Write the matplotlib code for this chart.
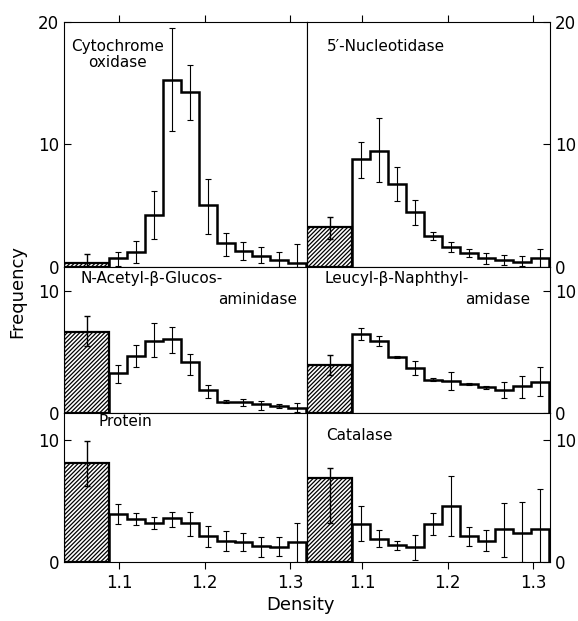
import numpy as np
import matplotlib
matplotlib.use('Agg')
import matplotlib.pyplot as plt

# density bins (the shaded first bar is the pellet / load zone)
edges = [1.088, 1.109, 1.130, 1.151, 1.172, 1.193, 1.214, 1.235, 1.256, 1.277, 1.298, 1.319]
x_left = 1.035
x_right = 1.320

names = ['Cytochrome\noxidase', '5\u2032-Nucleotidase',
         'N-Acetyl-\u03b2-Glucos-', 'Leucyl-\u03b2-Naphthyl-',
         'Protein', 'Catalase']

# shaded bar: value, error low, error high
shaded = [0.3, 3.25, 6.64, 3.92, 8.1, 6.9]
shaded_lo = [0.0, 2.3, 5.48, 3.1, 6.2, 3.2]
shaded_hi = [1.1, 4.1, 7.96, 4.8, 9.9, 7.66]

cyto = [0.7, 1.24, 4.25, 15.3, 14.3, 5.1, 1.96, 1.3, 0.9, 0.56, 0.35]
cyto_lo = [0.1, 0.3, 2.3, 11.1, 12.0, 2.7, 0.9, 0.56, 0.3, 0.0, 0.0]
cyto_hi = [1.2, 2.1, 6.2, 19.5, 16.5, 7.2, 2.8, 2.0, 1.6, 1.24, 1.9]

nucl = [8.8, 9.5, 6.8, 4.5, 2.5, 1.64, 1.18, 0.75, 0.56, 0.43, 0.7]
nucl_lo = [7.3, 6.9, 5.35, 3.4, 2.2, 1.24, 0.83, 0.24, 0.16, 0.08, 0.0]
nucl_hi = [10.2, 12.2, 8.2, 5.5, 2.85, 2.0, 1.45, 1.16, 0.97, 0.9, 1.5]

nag = [3.28, 4.66, 5.95, 6.09, 4.16, 1.85, 0.94, 0.88, 0.72, 0.6, 0.44]
nag_lo = [2.45, 3.75, 4.57, 4.93, 3.14, 1.2, 0.8, 0.6, 0.25, 0.45, 0.1]
nag_hi = [3.97, 5.56, 7.4, 7.08, 4.85, 2.3, 1.1, 1.16, 1.0, 0.75, 0.8]

leu = [6.5, 5.9, 4.6, 3.7, 2.74, 2.6, 2.4, 2.1, 1.9, 2.2, 2.55]
leu_lo = [6.0, 5.5, 4.5, 3.1, 2.65, 1.9, 2.3, 2.0, 1.24, 1.24, 1.37]
leu_hi = [6.97, 6.3, 4.7, 4.25, 2.85, 3.34, 2.5, 2.2, 2.55, 3.0, 3.8]

prot = [3.9, 3.5, 3.17, 3.6, 3.2, 2.13, 1.7, 1.64, 1.34, 1.2, 1.67]
prot_lo = [3.1, 3.0, 2.7, 2.9, 2.1, 1.26, 0.9, 0.93, 0.44, 0.5, 0.0]
prot_hi = [4.75, 3.99, 3.7, 4.1, 4.1, 2.95, 2.5, 2.35, 2.08, 2.08, 3.2]

cat = [3.1, 1.87, 1.4, 1.2, 3.1, 4.57, 2.1, 1.76, 2.7, 2.37, 2.7]
cat_lo = [1.76, 1.2, 1.0, 0.2, 2.2, 2.1, 1.27, 0.9, 0.44, 0.0, 0.0]
cat_hi = [4.57, 2.6, 1.74, 2.2, 4.0, 7.05, 2.9, 2.6, 4.85, 4.9, 5.95]

vals = [cyto, nucl, nag, leu, prot, cat]
lows = [cyto_lo, nucl_lo, nag_lo, leu_lo, prot_lo, cat_lo]
highs = [cyto_hi, nucl_hi, nag_hi, leu_hi, prot_hi, cat_hi]

ylims = [20, 20, 12, 12, 12.2, 12.2]
yticks = [[0, 10, 20], [0, 10, 20], [0, 10], [0, 10], [0, 10], [0, 10]]

plt.rcParams['hatch.linewidth'] = 0.9
fig = plt.figure(figsize=(5.78, 6.21), dpi=100)
gs = fig.add_gridspec(3, 2, left=0.1107, right=0.9516, top=0.9646, bottom=0.095,
                      hspace=0, wspace=0, height_ratios=[245, 146, 149])

centers = [(edges[i] + edges[i + 1]) / 2 for i in range(len(edges) - 1)]
for k in range(6):
    r, c = divmod(k, 2)
    ax = fig.add_subplot(gs[r, c])
    ax.bar(x_left, shaded[k], width=edges[0] - x_left, align='edge',
           facecolor='white', edgecolor='black', hatch='////////', linewidth=1.6)
    ax.errorbar((x_left + edges[0]) / 2, shaded[k],
                yerr=[[shaded[k] - shaded_lo[k]], [shaded_hi[k] - shaded[k]]],
                fmt='none', ecolor='black', elinewidth=1.0, capsize=2)
    ax.stairs(vals[k], edges, baseline=0, color='black', linewidth=1.8)
    v = np.array(vals[k])
    ax.errorbar(centers, v, yerr=[v - np.array(lows[k]), np.array(highs[k]) - v],
                fmt='none', ecolor='black', elinewidth=0.8, capsize=2, capthick=0.8)
    ax.set_xlim(x_left, x_right)
    ax.set_ylim(0, ylims[k])
    ax.set_yticks(yticks[k])
    ax.set_xticks([1.1, 1.2, 1.3])
    ax.tick_params(labelsize=12, width=0.8, length=5)
    if c == 1:
        ax.yaxis.tick_right()
    ax.tick_params(axis='y', direction='in')
    if r == 0:
        ax.xaxis.tick_top()
        ax.tick_params(axis='x', labeltop=False, direction='out')
    elif r == 1:
        ax.tick_params(axis='x', bottom=False, labelbottom=False)
    else:
        ax.tick_params(axis='x', direction='out')
    for s in ax.spines.values():
        s.set_linewidth(0.8)

    if k == 0:
        ax.text(0.22, 0.93, names[k], transform=ax.transAxes, ha='center', va='top',
                fontsize=11, linespacing=1.1)
    elif k in (2, 3):
        ax.text(0.07, 0.97, names[k], transform=ax.transAxes, ha='left', va='top', fontsize=11)
        ax.text(0.96 if k == 2 else 0.92, 0.83, 'aminidase' if k == 2 else 'amidase',
                transform=ax.transAxes, ha='right', va='top', fontsize=11)
    elif k == 4:
        ax.text(0.14, 0.99, names[k], transform=ax.transAxes, ha='left', va='top', fontsize=11)
    elif k == 5:
        ax.text(0.08, 0.90, names[k], transform=ax.transAxes, ha='left', va='top', fontsize=11)
    else:
        ax.text(0.08, 0.93, names[k], transform=ax.transAxes, ha='left', va='top', fontsize=11)

fig.text(0.03, 0.53, 'Frequency', rotation=90, ha='center', va='center', fontsize=13)
fig.text(0.52, 0.025, 'Density', ha='center', va='center', fontsize=13)

plt.savefig('out.png', dpi=100)
